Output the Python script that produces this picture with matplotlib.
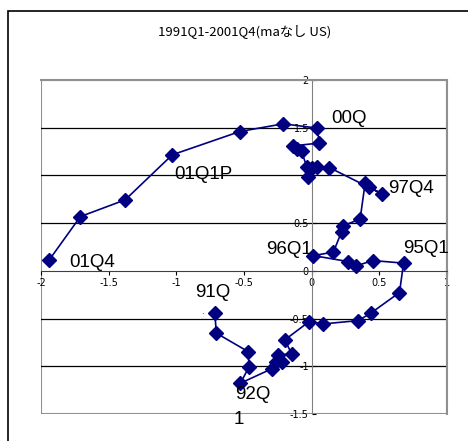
import matplotlib
matplotlib.use("Agg")
import matplotlib.pyplot as plt
from matplotlib.patches import Rectangle

TITLE = "1991Q1-2001Q4(maなし US)"
output_png = "out.png"

# 四半期ごとの値 (91Q1 - 01Q4)
x_vals = [-0.716, -0.704, -0.470, -0.462, -0.526, -0.296, -0.264, -0.222, -0.247, -0.148,
          -0.198, -0.018, 0.086, 0.345, 0.437, 0.649, 0.679, 0.452, 0.328, 0.271,
          0.012, 0.160, 0.222, 0.230, 0.358, 0.395, 0.427, 0.519, 0.130, 0.037,
          -0.025, 0.000, -0.037, -0.074, -0.111, -0.136, 0.056, 0.041, -0.210, -0.531,
          -1.030, -1.378, -1.709, -1.939]
y_vals = [-0.443, -0.653, -0.846, -1.003, -1.177, -1.027, -0.954, -0.951, -0.881, -0.870,
          -0.723, -0.531, -0.556, -0.521, -0.443, -0.227, 0.081, 0.108, 0.052, 0.097,
          0.160, 0.196, 0.412, 0.472, 0.542, 0.919, 0.877, 0.807, 1.083, 1.093,
          0.988, 1.077, 1.093, 1.251, 1.276, 1.310, 1.339, 1.496, 1.541, 1.460,
          1.216, 0.744, 0.569, 0.115]

# ラベル
label_texts = ["00Q", "97Q4", "96Q1", "95Q1", "01Q1P", "01Q4", "91Q", "92Q", "1"]
label_x = [0.143, 0.567, -0.333, 0.679, -1.013, -1.790, -0.864, -0.568, -0.536]
label_y = [1.593, 0.860, 0.227, 0.238, 1.006, 0.087, -0.223, -1.292, -1.562]
label_ha = ["left", "left", "left", "left", "left", "left", "left", "left", "center"]

x_ticks = [-2, -1.5, -1, -0.5, 0, 0.5, 1]
y_ticks = [-1.5, -1, -0.5, 0, 0.5, 1, 1.5, 2]

fig = plt.figure(figsize=(4.68, 4.41), dpi=100)
ax = fig.add_axes([41 / 468, 27 / 441, 406 / 468, 334 / 441])

# 外枠
fig.patches.append(Rectangle((8 / 468, -0.1), 1.2, 1.1 - 11 / 441, transform=fig.transFigure,
                             fill=False, edgecolor="black", linewidth=1.2))
fig.text(245 / 468, 1 - 32 / 441, TITLE, ha="center", va="center", fontsize=9.5,
         family=["Noto Sans CJK JP", "DejaVu Sans"])

ax.set_xlim(-2, 1)
ax.set_ylim(-1.5, 2)

for yv in [-1, -0.5, 0.5, 1, 1.5]:
    ax.axhline(yv, color="black", linewidth=0.9, zorder=1)

ax.spines["left"].set_position(("data", 0))
ax.spines["bottom"].set_position(("data", 0))
ax.spines["left"].set_color("#808080")
ax.spines["bottom"].set_color("#404040")
ax.spines["top"].set_color("#909090")
ax.spines["right"].set_color("#909090")
ax.spines["top"].set_linewidth(1.5)
ax.spines["right"].set_linewidth(1.5)
ax.add_patch(Rectangle((0, 0), 1, 1, transform=ax.transAxes, fill=False,
                       edgecolor="#909090", linewidth=1.5, zorder=0))

ax.set_xticks(x_ticks)
ax.set_yticks(y_ticks)
ax.set_xticklabels([f"{v:g}" for v in x_ticks])
ax.set_yticklabels([f"{v:g}" for v in y_ticks])
ax.tick_params(axis="x", direction="out", length=3, labelsize=7, pad=2)
ax.tick_params(axis="y", direction="in", length=3, labelsize=7, pad=2)

ax.plot(x_vals, y_vals, color="#000080", linewidth=1.2, marker="D", markersize=7,
        markerfacecolor="#000080", markeredgecolor="#000080", zorder=3, clip_on=False)

for t, lx, ly, ha in zip(label_texts, label_x, label_y, label_ha):
    ax.text(lx, ly, t, ha=ha, va="center", fontsize=13.5, family="Liberation Sans",
            clip_on=False, zorder=4)
ax.text(-0.81, -0.43, ".", fontsize=6, ha="center", va="center")

plt.savefig(output_png, dpi=100)
plt.close()
